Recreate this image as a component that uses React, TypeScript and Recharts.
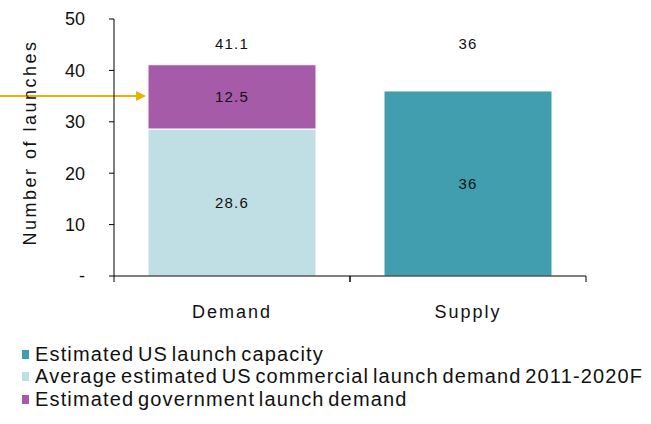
import React from 'react';
import {
  ComposedChart,
  Bar,
  XAxis,
  YAxis,
  LabelList,
  ReferenceLine,
} from 'recharts';

const categories = ['Demand', 'Supply'];
const commercialDemand = [28.6, null];
const governmentDemand = [12.5, null];
const launchCapacity = [null, 36];
const totalLabels = [41.1, 36];
const yTicks = [0, 10, 20, 30, 40, 50];
const arrowLevel = 35;

const seriesInfo = [
  { key: 'capacity', name: 'Estimated US launch capacity', color: '#409EAF' },
  { key: 'commercial', name: 'Average estimated US commercial launch demand 2011-2020F', color: '#BFDFE4' },
  { key: 'government', name: 'Estimated government launch demand', color: '#A65BA8' },
];

const data = categories.map((name, i) => ({
  name,
  commercial: commercialDemand[i],
  government: governmentDemand[i],
  capacity: launchCapacity[i],
  total: totalLabels[i],
}));

const TOP = 19;
const FONT = '"Liberation Sans", Arial, sans-serif';
const TEXT = '#111';

// value inside the segment
const InnerLabel = (props: any) => {
  const { x, y, width, height, value } = props;
  if (value == null || !height) return null;
  return (
    <text x={x + width / 2} y={y + height / 2} dy="0.36em" textAnchor="middle"
      fontSize={15} letterSpacing={1.2} fill={TEXT} fontFamily={FONT}>
      {value}
    </text>
  );
};

// total sits at a fixed height above the bars
const TotalLabel = (props: any) => {
  const { x, width, height, value } = props;
  if (!height) return null;
  return (
    <text x={x + width / 2} y={TOP + 25} dy="0.36em" textAnchor="middle"
      fontSize={15} letterSpacing={1.2} fill={TEXT} fontFamily={FONT}>
      {value}
    </text>
  );
};

const CategoryTick = (props: any) => {
  const { x, y, payload, width, visibleTicksCount } = props;
  const half = payload.offset || width / visibleTicksCount / 2;
  return (
    <g>
      <line x1={x - half} x2={x - half} y1={y} y2={y + 6} stroke="#000" />
      <line x1={x + half} x2={x + half} y1={y} y2={y + 6} stroke="#000" />
      <text x={x} y={y + 36} dy="0.36em" textAnchor="middle" fontSize={18}
        letterSpacing={2} fill={TEXT} fontFamily={FONT}>
        {payload.value}
      </text>
    </g>
  );
};

const YTitle = (props: any) => {
  const { viewBox } = props;
  const cx = 30;
  const cy = viewBox.y + viewBox.height / 2 - 5;
  return (
    <text x={cx} y={cy} transform={`rotate(-90 ${cx} ${cy})`} textAnchor="middle"
      dy="0.36em" fontSize={18} letterSpacing={2.5} fill={TEXT} fontFamily={FONT}>
      Number of launches
    </text>
  );
};

const Arrow = (props: any) => {
  const { x1, y1 } = props;
  const tip = x1 + 32;
  return (
    <g>
      <line x1={0} x2={tip - 8} y1={y1} y2={y1} stroke="#EEB000" strokeWidth={2} />
      <path d={`M${tip},${y1} L${tip - 10},${y1 - 5} L${tip - 10},${y1 + 5} Z`} fill="#EEB000" />
    </g>
  );
};

export default function App() {
  return (
    <div style={{ position: 'absolute', left: 0, top: 0, width: 651, height: 424, background: '#fff', fontFamily: FONT }}>
      <ComposedChart width={651} height={330} data={data}
        margin={{ top: TOP, right: 65, left: 0, bottom: 14 }}>
        <XAxis dataKey="name" height={40} axisLine={{ stroke: '#000' }} tickLine={false}
          tickSize={0} tickMargin={0} tick={<CategoryTick />} interval={0} />
        <YAxis width={114} domain={[0, 50]} ticks={yTicks} axisLine={{ stroke: '#000' }}
          tickLine={{ stroke: '#000' }} tickSize={5} tickMargin={24}
          tick={{ fill: TEXT, fontSize: 18, fontFamily: FONT }}
          tickFormatter={(v: number) => (v === 0 ? '-' : String(v))}
          label={<YTitle />} />
        <Bar dataKey="commercial" stackId="s" fill="#BFDFE4" stroke="#fff" barSize={168} isAnimationActive={false}>
          <LabelList dataKey="commercial" content={<InnerLabel />} />
        </Bar>
        <Bar dataKey="government" stackId="s" fill="#A65BA8" stroke="#fff" barSize={168} isAnimationActive={false}>
          <LabelList dataKey="government" content={<InnerLabel />} />
          <LabelList dataKey="total" content={<TotalLabel />} />
        </Bar>
        <Bar dataKey="capacity" stackId="s" fill="#409EAF" stroke="#fff" barSize={168} isAnimationActive={false}>
          <LabelList dataKey="capacity" content={<InnerLabel />} />
          <LabelList dataKey="total" content={<TotalLabel />} />
        </Bar>
        <ReferenceLine y={arrowLevel} stroke="none" shape={<Arrow />} />
      </ComposedChart>
      <div style={{ position: 'absolute', left: 22, top: 343 }}>
        {seriesInfo.map((s) => (
          <div key={s.key} style={{ display: 'flex', alignItems: 'center', height: 22.5 }}>
            <span style={{ width: 7, height: 9, background: s.color, marginRight: 6, display: 'inline-block' }} />
            <span style={{ fontSize: 20, letterSpacing: 1.15, wordSpacing: -3, color: TEXT, whiteSpace: 'nowrap' }}>{s.name}</span>
          </div>
        ))}
      </div>
    </div>
  );
}
